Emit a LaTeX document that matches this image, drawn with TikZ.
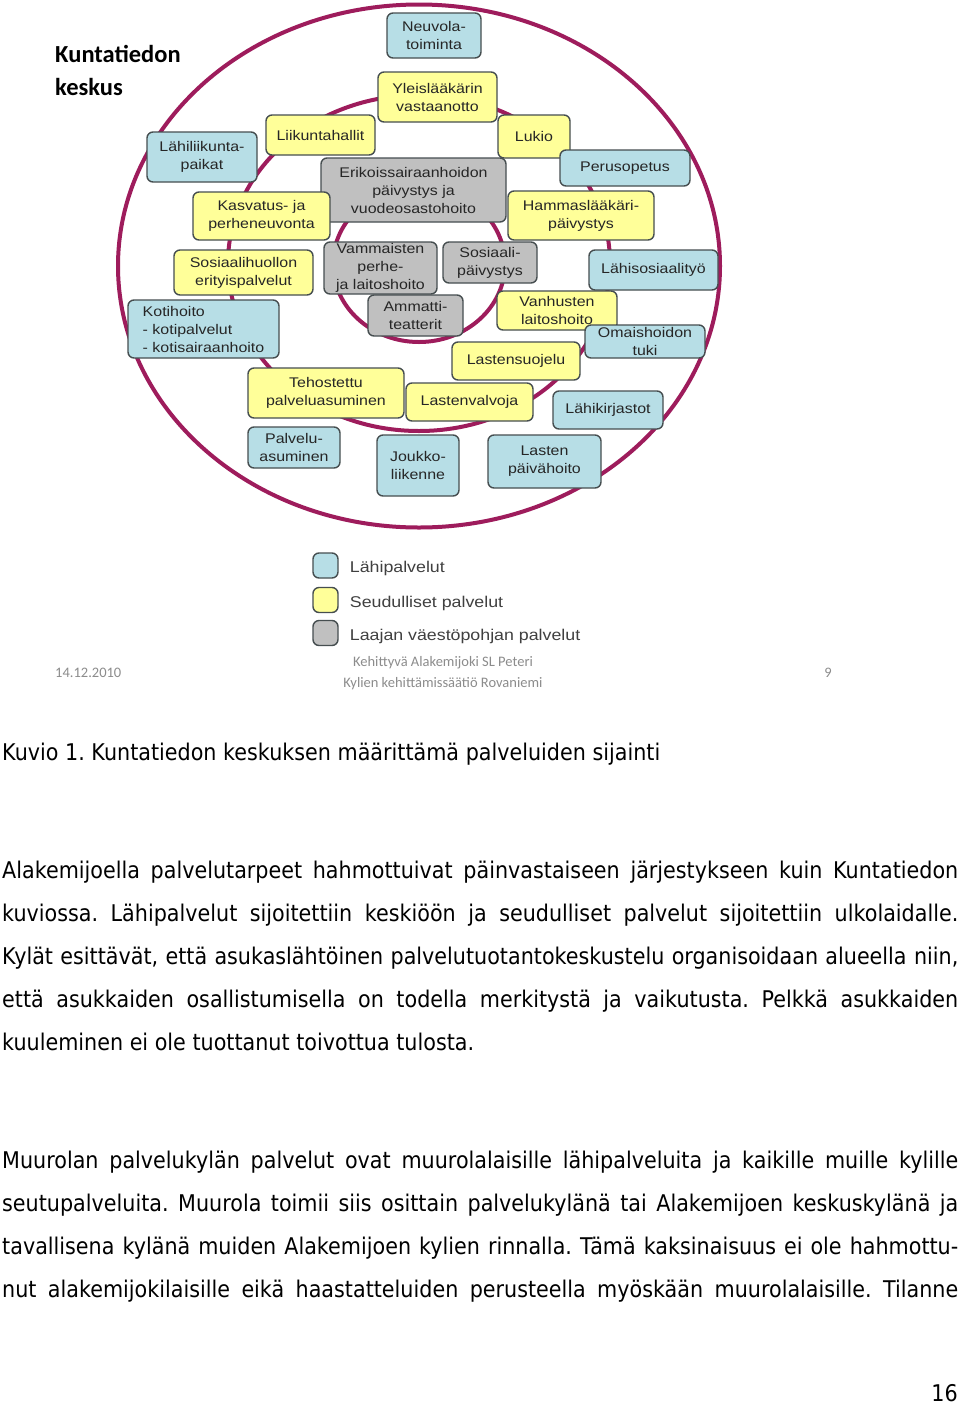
\documentclass[tikz,border=0pt]{standalone}
\usepackage{fontspec}
\setmainfont{Liberation Sans}
\newfontfamily\boxfont[FakeStretch=1.14]{Liberation Sans}
\newfontfamily\slidefont{Carlito}
\newfontfamily\pagefont[FakeStretch=0.9]{DejaVu Sans}
\usetikzlibrary{positioning}
\frenchspacing

\definecolor{ringred}{RGB}{158,28,92}
\definecolor{lahifill}{RGB}{183,222,230}
\definecolor{seutufill}{RGB}{255,255,153}
\definecolor{laajafill}{RGB}{192,192,192}
\definecolor{edgegray}{RGB}{70,78,80}
\definecolor{footgray}{RGB}{140,140,140}

\newcommand{\fullline}[1]{\makebox[956pt][s]{#1}}

\tikzset{
	palvelu/.style={draw=edgegray, line width=1.4pt, rounded corners=6pt, align=center, inner sep=1pt, text=black!85, font=\boxfont\fontsize{14}{18}\selectfont},
	lahi/.style={palvelu, fill=lahifill},
	seutu/.style={palvelu, fill=seutufill},
	laaja/.style={palvelu, fill=laajafill},
	ring/.style={draw=ringred, line width=4pt},
	legendtext/.style={inner sep=0pt, yshift=-3pt, text=black!75, font=\boxfont\fontsize{15.6}{18}\selectfont},
	foot/.style={anchor=base, inner sep=0pt, text=footgray, font=\slidefont\fontsize{14.5}{18}\selectfont},
	textline/.style={anchor=base west, inner sep=0pt, font=\pagefont\fontsize{23}{43}\selectfont}
}

\begin{document}
\begin{tikzpicture}[x=1pt, y=-1pt]
				\useasboundingbox (0,0) rectangle (960,1406);
				\fill[white] (0,0) rectangle (960,1406);

				\node (otsikko1) [anchor=base west, inner sep=0pt, font=\slidefont\bfseries\fontsize{24.5}{33}\selectfont] at (55, 62) {Kuntatiedon};
				\node (otsikko2) [anchor=base west, inner sep=0pt, font=\slidefont\bfseries\fontsize{24.5}{33}\selectfont] at (55, 95) {keskus};

				\draw[ring] (419, 266) ellipse [x radius=301, y radius=261.5];
				\draw[ring] (419, 263) ellipse [x radius=191, y radius=168];
				\draw[ring] (419, 264) ellipse [x radius=86, y radius=78];

				\node (Neuvola) [lahi, minimum width=94, minimum height=45] at (434, 35.5) {Neuvola-\\toiminta};
				\node (Yleis) [seutu, minimum width=119, minimum height=50] at (437.5, 97) {Yleislääkärin\\vastaanotto};
				\node (Liikunta) [seutu, minimum width=109, minimum height=40] at (320.5, 135) {Liikuntahallit};
				\node (Lukio) [seutu, minimum width=72, minimum height=43] at (534, 136.5) {Lukio};
				\node (LahiLiik) [lahi, minimum width=110, minimum height=50] at (202, 157) {Lähiliikunta-\\paikat};
				\node (Peruso) [lahi, minimum width=130, minimum height=36] at (625, 168) {Perusopetus};
				\node (Erikois) [laaja, minimum width=185, minimum height=64] at (413.5, 190) {Erikoissairaanhoidon\\päivystys ja\\vuodeosastohoito};
				\node (Kasvatus) [seutu, minimum width=137, minimum height=48] at (261.5, 216) {Kasvatus- ja\\perheneuvonta};
				\node (Hammas) [seutu, minimum width=146, minimum height=49] at (581, 215.5) {Hammaslääkäri-\\päivystys};
				\node (Vammais) [laaja, minimum width=113, minimum height=52] at (380.5, 268) {Vammaisten\\perhe-\\ja laitoshoito};
				\node (SosPaiv) [laaja, minimum width=94, minimum height=41] at (490, 262.5) {Sosiaali-\\päivystys};
				\node (SosHuol) [seutu, minimum width=139, minimum height=45] at (243.5, 272.5) {Sosiaalihuollon\\erityispalvelut};
				\node (LahiSos) [lahi, minimum width=129, minimum height=40] at (653.5, 270) {Lähisosiaalityö};
				\node (Kotihoito) [lahi, align=left, minimum width=151, minimum height=58] at (203.5, 329) {Kotihoito\\- kotipalvelut\\- kotisairaanhoito};
				\node (Ammatti) [laaja, minimum width=95, minimum height=41] at (415.5, 315.5) {Ammatti-\\teatterit};
				\node (Vanhus) [seutu, minimum width=120, minimum height=39] at (557, 310.5) {Vanhusten\\laitoshoito};
				\node (Omais) [lahi, minimum width=120, minimum height=33] at (645, 341.5) {Omaishoidon\\tuki};
				\node (LastenSuo) [seutu, minimum width=128, minimum height=38] at (516, 361) {Lastensuojelu};
				\node (Tehost) [seutu, minimum width=156, minimum height=50] at (326, 393) {Tehostettu\\palveluasuminen};
				\node (LastenVal) [seutu, minimum width=127, minimum height=38] at (469.5, 402) {Lastenvalvoja};
				\node (LahiKirj) [lahi, minimum width=110, minimum height=38] at (608, 410) {Lähikirjastot};
				\node (PalvAsu) [lahi, minimum width=92, minimum height=41] at (294, 447.5) {Palvelu-\\asuminen};
				\node (Joukko) [lahi, minimum width=82, minimum height=61] at (418, 465.5) {Joukko-\\liikenne};
				\node (LastenPaiv) [lahi, minimum width=113, minimum height=53] at (544.5, 461.5) {Lasten\\päivähoito};

				\node (KeyLahi) [lahi, minimum width=25, minimum height=25] at (325.5, 565.5) {};
				\node (KeySeutu) [seutu, minimum width=25, minimum height=25] at (325.5, 600) {};
				\node (KeyLaaja) [laaja, minimum width=25, minimum height=25] at (325.5, 633) {};
				\node (TxtLahi) [legendtext, right=11pt of KeyLahi] {Lähipalvelut};
				\node (TxtSeutu) [legendtext, right=11pt of KeySeutu] {Seudulliset palvelut};
				\node (TxtLaaja) [legendtext, right=11pt of KeyLaaja] {Laajan väestöpohjan palvelut};

				\node (Pvm) [foot, anchor=base west] at (55, 677) {14.12.2010};
				\node (Tekija1) [foot] at (443, 666) {Kehittyvä Alakemijoki SL Peteri};
				\node (Tekija2) [foot] at (443, 687) {Kylien kehittämissäätiö Rovaniemi};
				\node (Sivu) [foot] at (828, 677) {9};

				\node (Kuvio) [textline] at (2, 760) {Kuvio 1. Kuntatiedon keskuksen määrittämä palveluiden sijainti};

				\node (P1a) [textline] at (2, 878) {\fullline{Alakemijoella palvelutarpeet hahmottuivat päinvastaiseen järjestykseen kuin Kuntatiedon}};
				\node (P1b) [textline] at (2, 921) {\fullline{kuviossa. Lähipalvelut sijoitettiin keskiöön ja seudulliset palvelut sijoitettiin ulkolaidalle.}};
				\node (P1c) [textline] at (2, 964) {\fullline{Kylät esittävät, että asukaslähtöinen palvelutuotantokeskustelu organisoidaan alueella niin,}};
				\node (P1d) [textline] at (2, 1007) {\fullline{että asukkaiden osallistumisella on todella merkitystä ja vaikutusta. Pelkkä asukkaiden}};
				\node (P1e) [textline] at (2, 1050) {kuuleminen ei ole tuottanut toivottua tulosta.};

				\node (P2a) [textline] at (2, 1168) {\fullline{Muurolan palvelukylän palvelut ovat muurolalaisille lähipalveluita ja kaikille muille kylille}};
				\node (P2b) [textline] at (2, 1211) {\fullline{seutupalveluita. Muurola toimii siis osittain palvelukylänä tai Alakemijoen keskuskylänä ja}};
				\node (P2c) [textline] at (2, 1254) {\fullline{tavallisena kylänä muiden Alakemijoen kylien rinnalla. Tämä kaksinaisuus ei ole hahmottu-}};
				\node (P2d) [textline] at (2, 1297) {\fullline{nut alakemijokilaisille eikä haastatteluiden perusteella myöskään muurolalaisille. Tilanne}};

				\node (SivuNro) [textline, anchor=base east] at (958, 1401) {16};
\end{tikzpicture}
\end{document}
